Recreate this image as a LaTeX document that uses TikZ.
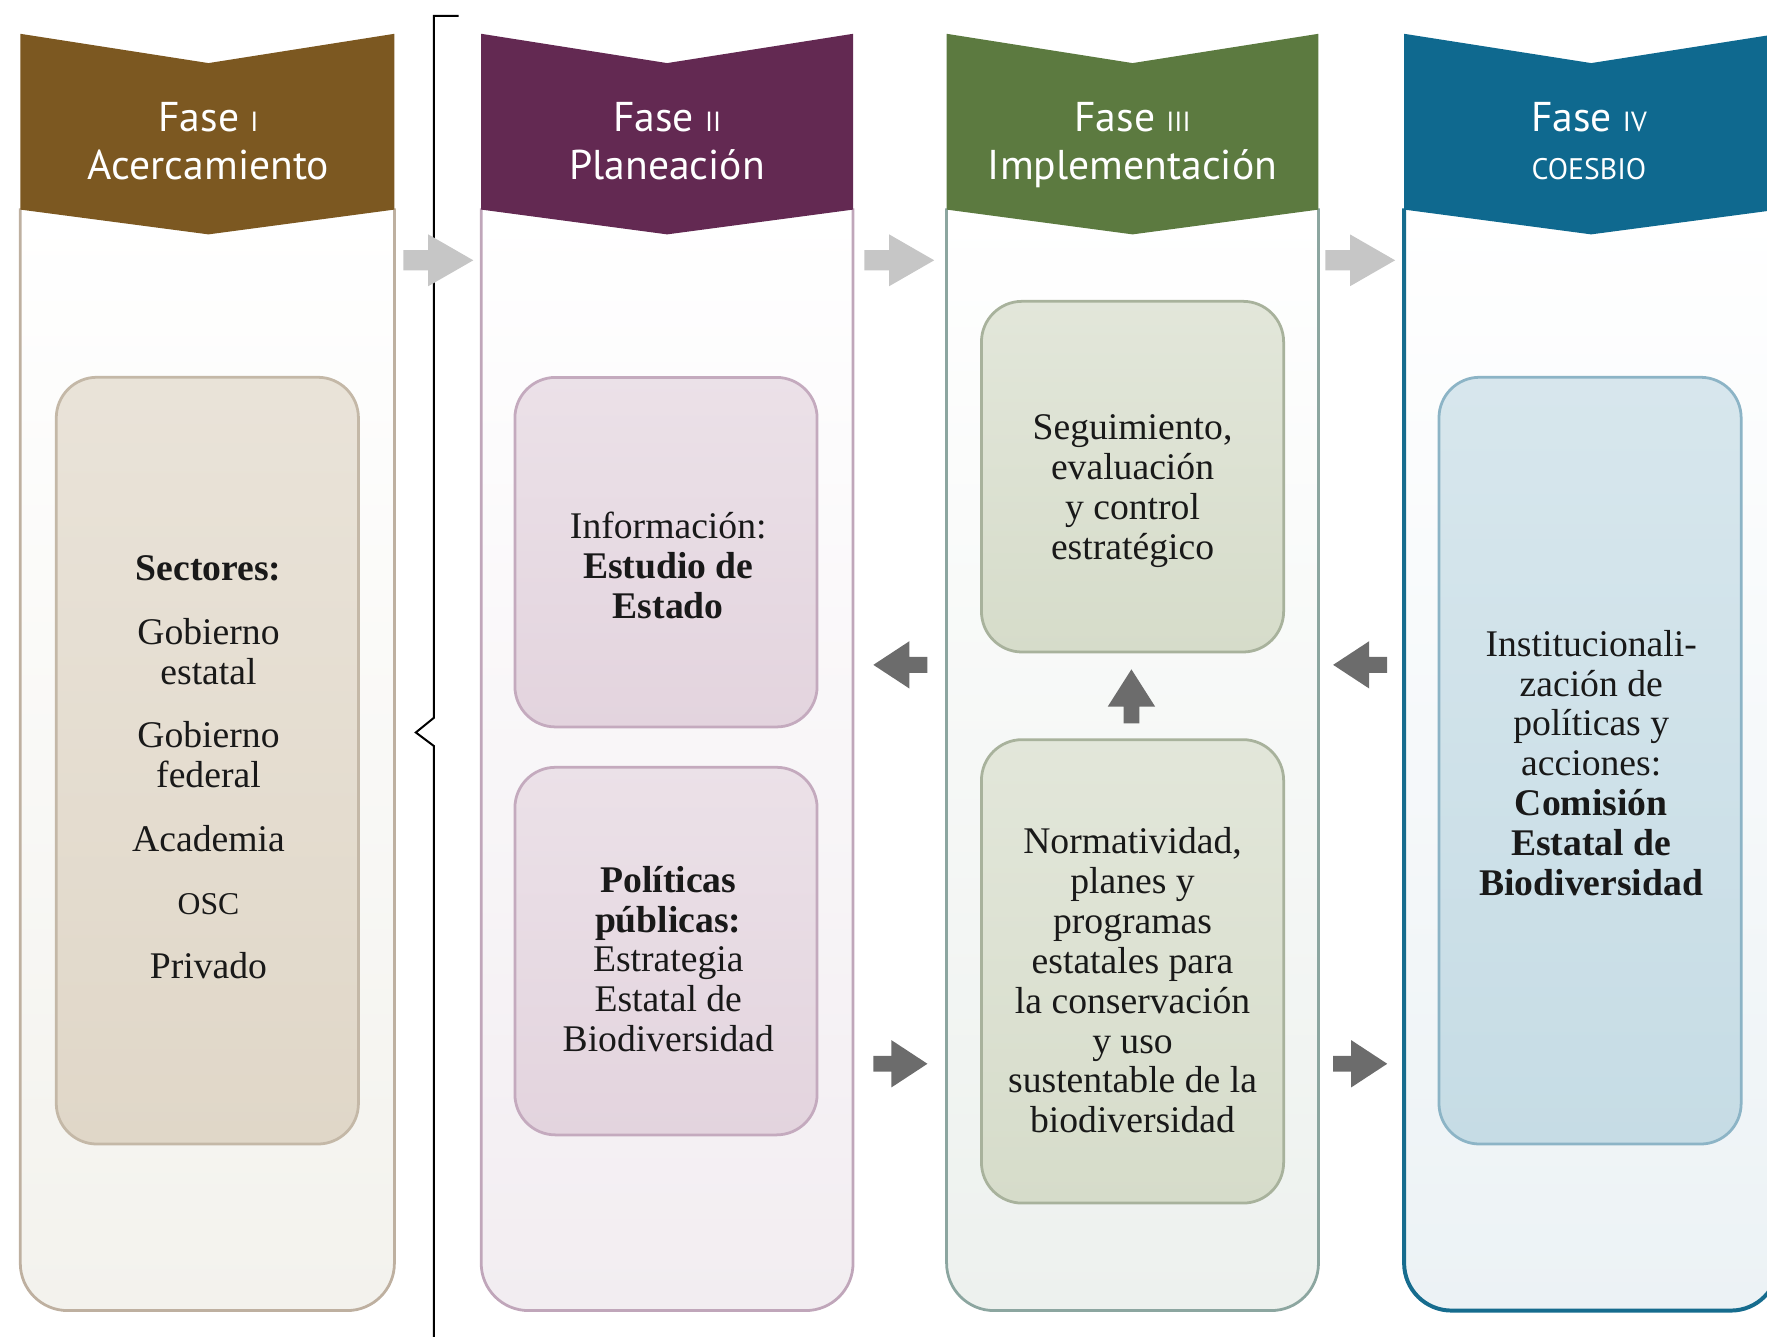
\documentclass[tikz,border=0pt]{standalone}
\usepackage{fontspec}
\setmainfont{Liberation Serif}
\newfontfamily\headfont{PT Sans}
\usepackage{tikz}

\definecolor{faseuno}{RGB}{124,88,33}
\definecolor{fasedos}{RGB}{99,41,82}
\definecolor{fasetres}{RGB}{92,122,64}
\definecolor{fasecuatro}{RGB}{15,105,143}
\definecolor{lineauno}{RGB}{190,176,160}
\definecolor{lineados}{RGB}{192,166,186}
\definecolor{lineatres}{RGB}{140,166,160}
\definecolor{lineacuatro}{RGB}{22,108,142}
\definecolor{fondouno}{RGB}{243,242,237}
\definecolor{fondodos}{RGB}{242,237,241}
\definecolor{fondotres}{RGB}{237,241,238}
\definecolor{fondocuatro}{RGB}{236,242,245}
\definecolor{cajauno}{RGB}{224,215,200}
\definecolor{cajados}{RGB}{227,212,222}
\definecolor{cajatres}{RGB}{214,220,202}
\definecolor{cajacuatro}{RGB}{198,220,229}
\definecolor{bordeuno}{RGB}{196,184,167}
\definecolor{bordedos}{RGB}{196,170,190}
\definecolor{bordetres}{RGB}{168,178,156}
\definecolor{bordecuatro}{RGB}{140,180,198}
\definecolor{flechaclara}{RGB}{198,198,198}
\definecolor{flechaoscura}{RGB}{108,108,108}

\begin{document}
\begin{tikzpicture}[x=0.01cm, y=-0.01cm,
		columna/.style={rounded corners=0.42cm, line width=0.7pt, top color=white},
		encabezado/.style={text=white, align=center, anchor=north, inner sep=0pt, font=\headfont\fontsize{10.5}{12.2}\selectfont},
		caja/.style={rounded corners=0.36cm, line width=0.7pt, minimum width=2.68cm, inner sep=0pt},
		texto/.style={align=center, inner sep=0pt, text=black!90, font=\fontsize{9.5}{10.05}\selectfont},
		clara/.style={fill=flechaclara},
		oscura/.style={fill=flechaoscura}]
	\useasboundingbox (0,0) rectangle (1568,1186);
	% columnas
	\draw[columna, draw=lineauno, bottom color=fondouno] (18,185) -- (18,1163) -- (350,1163) -- (350,185);
	\draw[columna, draw=lineados, bottom color=fondodos] (427,185) -- (427,1163) -- (757,1163) -- (757,185);
	\draw[columna, draw=lineatres, bottom color=fondotres] (840,185) -- (840,1163) -- (1170,1163) -- (1170,185);
	\draw[columna, draw=lineacuatro, bottom color=fondocuatro, line width=1pt] (1246,185) -- (1246,1163) -- (1578,1163) -- (1578,185);
	% encabezados
	\fill[faseuno] (18,30) -- (185,56) -- (350,30) -- (350,186) -- (185,208) -- (18,186) -- cycle;
	\fill[fasedos] (427,30) -- (592,56) -- (757,30) -- (757,186) -- (592,208) -- (427,186) -- cycle;
	\fill[fasetres] (840,30) -- (1005,56) -- (1170,30) -- (1170,186) -- (1005,208) -- (840,186) -- cycle;
	\fill[fasecuatro] (1246,30) -- (1412,56) -- (1578,30) -- (1578,186) -- (1412,208) -- (1246,186) -- cycle;
	\node[encabezado] (fase1) at (185,90) {Fase {\fontsize{7}{7}\selectfont I}\\Acercamiento};
	\node[encabezado] (fase2) at (592,90) {Fase {\fontsize{7}{7}\selectfont II}\\Planeación};
	\node[encabezado] (fase3) at (1005,90) {Fase {\fontsize{7}{7}\selectfont III}\\Implementación};
	\node[encabezado] (fase4) at (1410,90) {Fase {\fontsize{7}{7}\selectfont IV}\\{\fontsize{7.5}{7.5}\selectfont COESBIO}};
	% llave
	\draw[line width=0.5pt] (407,14) -- (385,14) -- (385,637) -- (369,650) -- (385,662) -- (385,1190);
	% cajas
	\node[caja, draw=bordeuno, top color=cajauno!70!white, bottom color=cajauno, minimum height=6.8cm] (sectores) at (184,675) {};
	\node[caja, draw=bordedos, top color=cajados!70!white, bottom color=cajados, minimum height=3.1cm] (info) at (591,490) {};
	\node[caja, draw=bordedos, top color=cajados!70!white, bottom color=cajados, minimum height=3.26cm] (politicas) at (591,844) {};
	\node[caja, draw=bordetres, top color=cajatres!70!white, bottom color=cajatres, minimum height=3.11cm] (seguimiento) at (1005,423) {};
	\node[caja, draw=bordetres, top color=cajatres!70!white, bottom color=cajatres, minimum height=4.11cm] (normatividad) at (1005,862) {};
	\node[caja, draw=bordecuatro, top color=cajacuatro!70!white, bottom color=cajacuatro, minimum height=6.8cm] (coesbio) at (1411,675) {};
	% textos
	\node[texto] (sectorestxt) at (185,681)
		{\textbf{Sectores:}\\[6pt] Gobierno\\estatal\\[6pt] Gobierno\\federal\\[6pt] Academia\\[6pt] {\fontsize{8}{10}\selectfont OSC}\\[6pt] Privado};
	\node[texto] (infotxt) at (593,502) {Información:\\\textbf{Estudio de}\\\textbf{Estado}};
	\node[texto] (politicastxt) at (593,851) {\textbf{Políticas}\\\textbf{públicas:}\\Estrategia\\Estatal de\\Biodiversidad};
	\node[texto] (seguimientotxt) at (1005,436) {Seguimiento,\\evaluación\\y control\\estratégico};
	\node[texto] (normatividadtxt) at (1005,870) {Normatividad,\\planes y\\programas\\estatales para\\la conservación\\y uso\\sustentable de la\\biodiversidad};
	\node[texto] (coesbiotxt) at (1412,677) {Institucionali-\\zación de\\políticas y\\acciones:\\\textbf{Comisión}\\\textbf{Estatal de}\\\textbf{Biodiversidad}};
	% flechas claras
	\fill[clara] (358,222) -- (380,222) -- (380,208) -- (420,231) -- (380,254) -- (380,240) -- (358,240) -- cycle;
	\fill[clara] (767,222) -- (789,222) -- (789,208) -- (829,231) -- (789,254) -- (789,240) -- (767,240) -- cycle;
	\fill[clara] (1176,222) -- (1198,222) -- (1198,208) -- (1238,231) -- (1198,254) -- (1198,240) -- (1176,240) -- cycle;
	% flechas oscuras
	\fill[oscura] (775,590) -- (807,569) -- (807,583) -- (823,583) -- (823,597) -- (807,597) -- (807,611) -- cycle;
	\fill[oscura] (1183,590) -- (1215,569) -- (1215,583) -- (1231,583) -- (1231,597) -- (1215,597) -- (1215,611) -- cycle;
	\fill[oscura] (823,944) -- (791,923) -- (791,937) -- (775,937) -- (775,951) -- (791,951) -- (791,965) -- cycle;
	\fill[oscura] (1231,944) -- (1199,923) -- (1199,937) -- (1183,937) -- (1183,951) -- (1199,951) -- (1199,965) -- cycle;
	\fill[oscura] (1004,594) -- (1025,627) -- (1011,627) -- (1011,642) -- (997,642) -- (997,627) -- (983,627) -- cycle;
\end{tikzpicture}
\end{document}
